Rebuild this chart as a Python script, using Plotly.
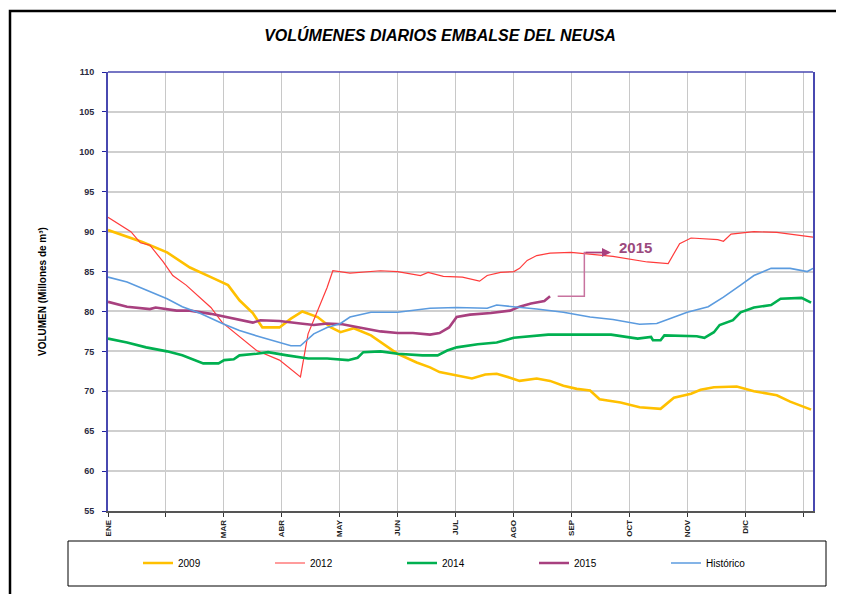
import plotly.graph_objects as go

# Day positions (uniform months of 365/12 days) and volumes (millones de m3)
dias_2009 = [0, 18, 31, 43, 54, 63, 69, 76, 81, 90, 96, 102, 110, 117, 122, 129, 138, 144, 152, 162, 169, 174,
             183, 191, 198, 204, 211, 216, 225, 232, 239, 246, 253, 258, 269, 279, 290, 297, 306, 311, 318, 330,
             339, 351, 358, 369]
vol_2009 = [90.2, 88.7, 87.4, 85.5, 84.3, 83.3, 81.4, 79.8, 78.0, 78.0, 79.1, 80.0, 79.3, 78.0, 77.4, 77.9, 77.0,
            76.0, 74.7, 73.6, 73.0, 72.4, 72.0, 71.6, 72.1, 72.2, 71.7, 71.3, 71.6, 71.3, 70.7, 70.3, 70.1, 69.0,
            68.6, 68.0, 67.8, 69.2, 69.7, 70.2, 70.5, 70.6, 70.0, 69.5, 68.7, 67.7]

dias_2012 = [0, 12, 17, 22, 29, 34, 41, 48, 54, 60, 71, 78, 90, 101, 105, 110, 115, 118, 122, 127, 143, 152, 164,
             168, 176, 186, 195, 199, 206, 213, 216, 220, 225, 232, 243, 248, 265, 283, 294, 300, 306, 320, 323,
             327, 339, 351, 362, 370]
vol_2012 = [91.8, 90.0, 88.6, 88.3, 86.2, 84.5, 83.3, 81.8, 80.5, 78.6, 76.4, 75.1, 73.9, 71.8, 77.2, 80.1, 83.0,
            85.1, 85.0, 84.8, 85.1, 85.0, 84.5, 84.9, 84.4, 84.3, 83.8, 84.5, 84.9, 85.0, 85.4, 86.4, 87.0, 87.3,
            87.4, 87.3, 86.9, 86.2, 86.0, 88.5, 89.2, 89.0, 88.8, 89.7, 90.0, 89.9, 89.6, 89.3]

dias_2014 = [0, 10, 20, 31, 39, 50, 58, 61, 66, 69, 78, 84, 94, 105, 115, 126, 131, 134, 143, 152, 165, 173, 178,
             183, 194, 204, 213, 222, 231, 248, 264, 278, 285, 286, 290, 292, 309, 313, 318, 321, 328, 332, 339,
             348, 353, 364, 369]
vol_2014 = [76.6, 76.1, 75.5, 75.0, 74.5, 73.5, 73.5, 73.9, 74.0, 74.5, 74.7, 74.9, 74.5, 74.1, 74.1, 73.9, 74.2,
            74.9, 75.0, 74.7, 74.5, 74.5, 75.1, 75.5, 75.9, 76.1, 76.7, 76.9, 77.1, 77.1, 77.1, 76.6, 76.8, 76.4,
            76.4, 77.0, 76.9, 76.7, 77.4, 78.3, 78.9, 79.9, 80.5, 80.8, 81.6, 81.7, 81.1]

dias_2015 = [0, 10, 22, 25, 36, 43, 54, 66, 76, 80, 90, 101, 108, 115, 123, 134, 143, 152, 160, 169, 174, 179,
             183, 190, 201, 211, 216, 222, 229, 232]
vol_2015 = [81.2, 80.6, 80.3, 80.5, 80.1, 80.1, 79.7, 79.1, 78.6, 78.9, 78.8, 78.5, 78.3, 78.5, 78.4, 77.9, 77.5,
            77.3, 77.3, 77.1, 77.3, 78.0, 79.3, 79.6, 79.8, 80.1, 80.6, 81.0, 81.3, 81.9]

dias_hist = [0, 10, 20, 31, 39, 48, 60, 69, 80, 90, 96, 101, 108, 115, 122, 127, 138, 152, 169, 183, 199, 204,
             213, 225, 239, 248, 253, 265, 279, 288, 295, 304, 315, 323, 332, 339, 348, 358, 367, 370]
vol_hist = [84.3, 83.7, 82.7, 81.6, 80.6, 79.8, 78.5, 77.6, 76.8, 76.1, 75.7, 75.7, 77.2, 78.0, 78.5, 79.3, 79.9,
            79.9, 80.4, 80.5, 80.4, 80.8, 80.6, 80.3, 79.9, 79.5, 79.3, 79.0, 78.4, 78.5, 79.1, 79.9, 80.6, 81.8,
            83.3, 84.5, 85.4, 85.4, 85.0, 85.4]

meses = ["ENE", "", "MAR", "ABR", "MAY", "JUN", "JUL", "AGO", "SEP", "OCT", "NOV", "DIC", ""]
y_ticks = [55, 60, 65, 70, 75, 80, 85, 90, 95, 100, 105, 110]

# annotation path for the "2015" callout (day, volume)
flecha_dias = [236, 250, 250]
flecha_vol = [81.9, 81.9, 87.4]
flecha_fin = [264, 87.4]
texto_2015 = [277, 88.0]

mes_len = 365 / 12
tickvals = [i * mes_len for i in range(13)]

# page body has an 8px margin: figure is drawn at (8, 8)
W, H = 836, 586
OFF = 8
PL, PT, PW, PH = 108 - OFF, 72 - OFF, 705, 439


def px_x(px):
    return (px - 108) / PW


def px_y(py):
    return (511 - py) / PH


fig = go.Figure()
series = [
    ("2009", dias_2009, vol_2009, "#FFC000", 2.6),
    ("2012", dias_2012, vol_2012, "#FF3B3B", 1.2),
    ("2014", dias_2014, vol_2014, "#00B050", 2.6),
    ("2015", dias_2015, vol_2015, "#A8407F", 2.6),
    ("Histórico", dias_hist, vol_hist, "#5B9BDF", 1.6),
]
for name, x, y, c, w in series:
    fig.add_trace(go.Scatter(x=x, y=y, mode="lines", name=name,
                             line=dict(color=c, width=w), hoverinfo="skip"))

# callout line
fig.add_trace(go.Scatter(x=flecha_dias + [flecha_fin[0] - 3], y=flecha_vol + [flecha_fin[1]], mode="lines",
                         line=dict(color="#C8739F", width=1.5), showlegend=False, hoverinfo="skip"))
fig.add_annotation(x=flecha_fin[0], y=flecha_fin[1], ax=flecha_dias[2], ay=flecha_vol[2],
                   xref="x", yref="y", axref="x", ayref="y", showarrow=True, arrowhead=2,
                   arrowsize=1.2, arrowwidth=1.5, arrowcolor="#A8407F", text="")
fig.add_annotation(x=texto_2015[0], y=texto_2015[1], xref="x", yref="y", text="<b>2015</b>",
                   showarrow=False, font=dict(family="Liberation Sans, Arial", size=15, color="#9B4A7E"))

fig.update_layout(
    width=W, height=H,
    margin=dict(l=PL, r=W - PL - PW, t=PT, b=H - PT - PH, autoexpand=False),
    paper_bgcolor="white", plot_bgcolor="white",
    title=dict(text="<b><i>VOLÚMENES DIARIOS EMBALSE DEL NEUSA</i></b>", x=0.471, xref="paper",
               xanchor="center", y=1 - (35 - OFF) / H, yanchor="middle",
               font=dict(family="Liberation Sans Narrow, Arial Narrow, Liberation Sans", size=16,
                         color="black")),
    xaxis=dict(range=[0, 370], tickvals=tickvals, ticktext=[f"<b>{m}</b>" for m in meses],
               tickangle=-90, tickfont=dict(family="Liberation Sans, Arial", size=8, color="#222"),
               showgrid=True, gridcolor="#C8C8C8", gridwidth=1, ticks="outside", ticklen=4,
               tickcolor="#333", showline=True, linecolor="#555", linewidth=1.5, zeroline=False,
               automargin=False),
    yaxis=dict(range=[55, 110], tickvals=y_ticks, ticktext=[f"<b>{v}</b>" for v in y_ticks],
               tickfont=dict(family="Liberation Sans, Arial", size=9, color="#2A2A40"),
               showgrid=True, gridcolor="#CFCFCF", gridwidth=1.5, ticks="outside", ticklen=4,
               tickcolor="#2020A0", showline=True, linecolor="#4848B0", linewidth=2, mirror=True,
               zeroline=False, ticklabelstandoff=6, automargin=False),
    showlegend=True,
    legend=dict(orientation="h", xref="container", x=(138 - OFF) / W, xanchor="left",
                yref="container", y=1 - (563 - OFF) / H, yanchor="middle",
                entrywidth=87, entrywidthmode="pixels", bgcolor="rgba(0,0,0,0)",
                font=dict(family="Liberation Sans Narrow, Arial Narrow, Liberation Sans", size=10, color="black"),
                itemwidth=30),
)

# top border of the plot area
fig.add_shape(type="line", xref="paper", yref="paper", x0=0, x1=1, y0=1, y1=1,
              line=dict(color="#4848B0", width=1.5))
# legend box
fig.add_shape(type="rect", xref="paper", yref="paper",
              x0=px_x(68), x1=px_x(826), y0=px_y(586), y1=px_y(541),
              line=dict(color="black", width=1))
# outer frame
fig.add_shape(type="rect", xref="paper", yref="paper",
              x0=px_x(10), x1=px_x(838), y0=px_y(640), y1=px_y(11),
              line=dict(color="black", width=2.5))

fig.add_annotation(x=px_x(35), y=0.5, xref="paper", yref="paper", textangle=-90,
                   text="<b>VOLUMEN (Millones de m³)</b>", showarrow=False,
                   font=dict(family="Liberation Sans, Arial", size=10, color="black"))

fig.write_html("out.html")
